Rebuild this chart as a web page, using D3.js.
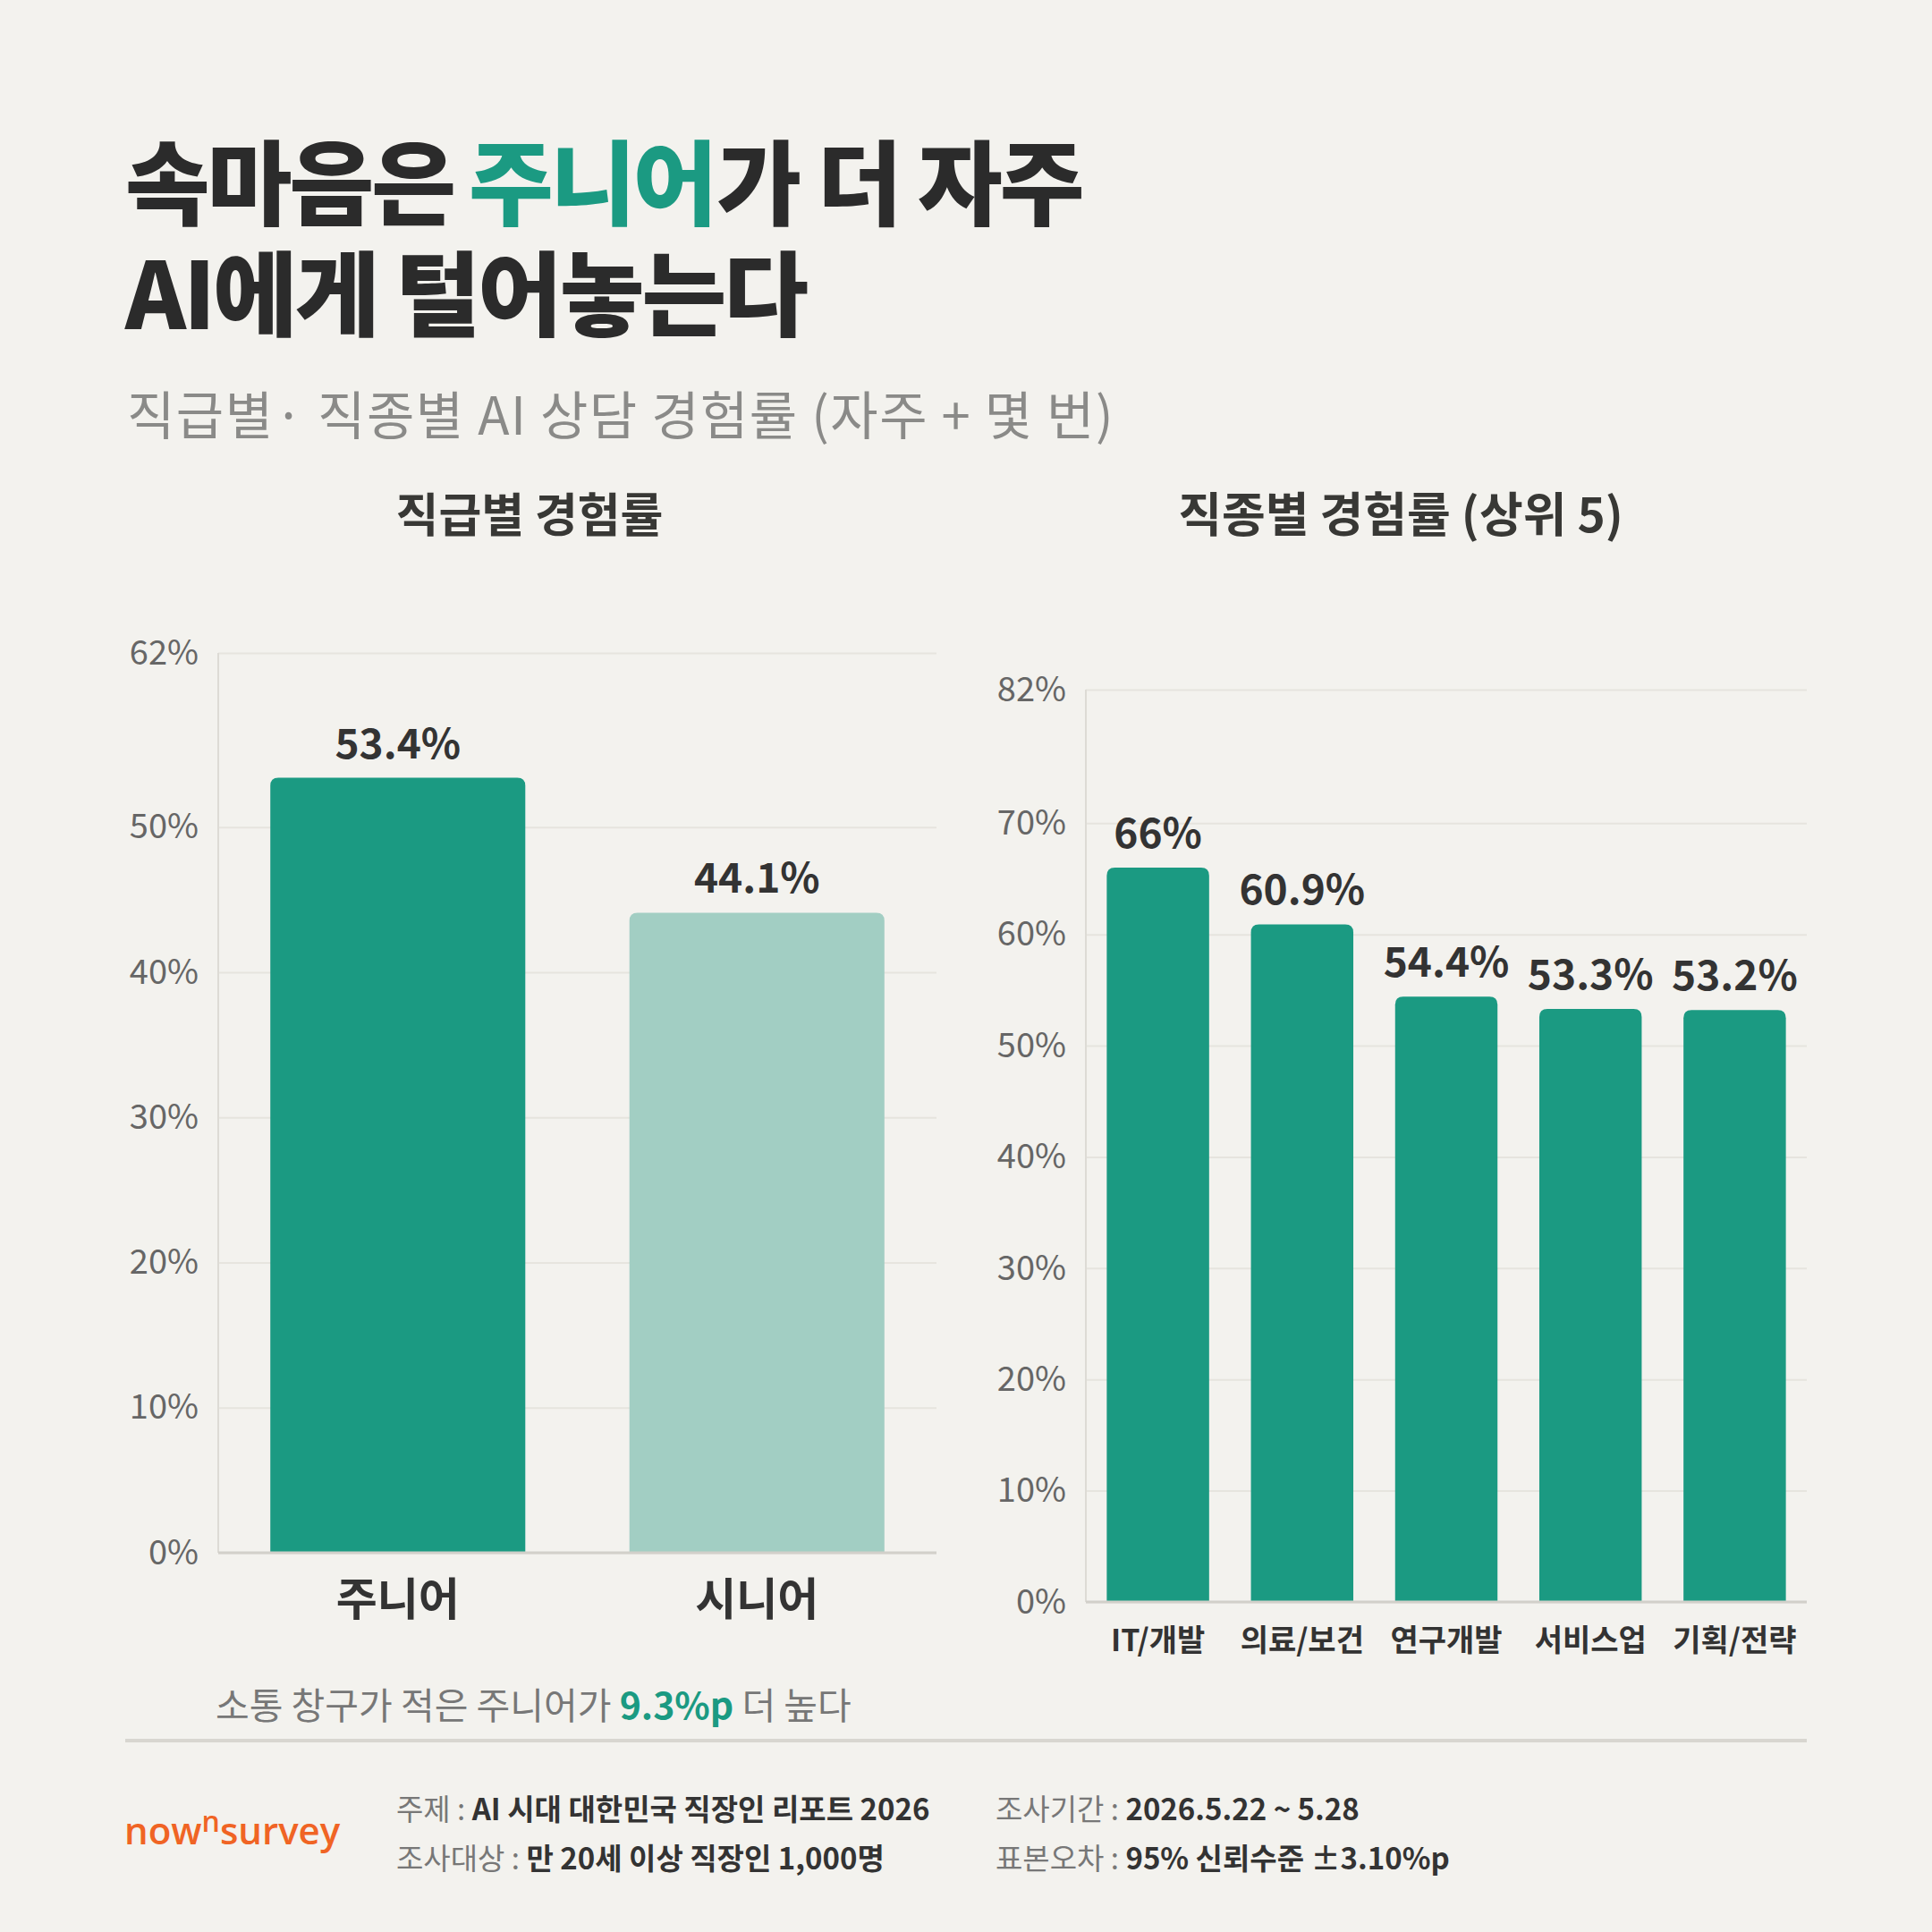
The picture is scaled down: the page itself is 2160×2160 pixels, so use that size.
<!DOCTYPE html>
<html>
<head>
<meta charset="utf-8">
<script src="https://cdn.jsdelivr.net/npm/d3@7"></script>
<style>
  html, body { margin: 0; padding: 0; background: #f3f2ee; }
  svg { display: block; font-family: "Noto Sans CJK KR", "Noto Sans", sans-serif; }
</style>
</head>
<body>
<div id="chart"></div>
<script>
'use strict'

// 직급별
const levelCats = ['주니어', '시니어']
const levelValues = [53.4, 44.1]
const levelTicks = [0, 10, 20, 30, 40, 50, 62]

// 직종별 (상위 5)
const jobCats = ['IT/개발', '의료/보건', '연구개발', '서비스업', '기획/전략']
const jobValues = [66, 60.9, 54.4, 53.3, 53.2]
const jobTicks = [0, 10, 20, 30, 40, 50, 60, 70, 82]

const W = 2160
const H = 2160
const green = '#1b9a82'
const lightGreen = '#a2cec3'
const dark = '#2b2b2b'

const svg = d3.select('#chart')
  .append('svg')
  .attr('width', W)
  .attr('height', H)

svg.append('rect').attr('width', W).attr('height', H).attr('fill', '#f3f2ee')

// title, line 1 is built from pieces placed one after another
const titleParts = [['속마음은', dark, 17], ['주니어', green, 2], ['가 더 자주', dark, 0]]
let tx = 140
titleParts.forEach(p => {
  const t = svg.append('text')
    .attr('x', tx)
    .attr('y', 244)
    .attr('font-size', 103)
    .attr('font-weight', 900)
    .attr('letter-spacing', -3)
    .attr('fill', p[1])
    .text(p[0])
  tx += t.node().getComputedTextLength() + p[2]
})
svg.append('text')
  .attr('x', 140)
  .attr('y', 368)
  .attr('font-size', 103)
  .attr('font-weight', 900)
  .attr('letter-spacing', -3)
  .attr('fill', dark)
  .text('AI에게 털어놓는다')

svg.append('text')
  .attr('x', 142)
  .attr('y', 486)
  .attr('font-size', 58)
  .attr('letter-spacing', 1.5)
  .attr('fill', '#8a8a88')
  .text('직급별· 직종별 AI 상담 경험률 (자주 + 몇 번)')

// rounded-top bar path
function barPath (x, y, w, h, r) {
  r = Math.min(r, h)
  return `M${x},${y + h}V${y + r}Q${x},${y} ${x + r},${y}H${x + w - r}Q${x + w},${y} ${x + w},${y + r}V${y + h}Z`
}

function drawChart (opt) {
  const g = svg.append('g')
  const x = d3.scaleBand()
    .domain(opt.cats)
    .range([opt.left, opt.right])
    .paddingInner(0.29)
    .paddingOuter(0.145)
  const y = d3.scaleLinear()
    .domain([0, opt.max])
    .range([opt.bottom, opt.top])

  // gridlines + tick labels
  const axis = g.append('g')
    .attr('transform', `translate(${opt.left},0)`)
    .call(d3.axisLeft(y)
      .tickValues(opt.ticks)
      .tickSize(-(opt.right - opt.left))
      .tickPadding(22)
      .tickFormat(d => d + '%'))
  axis.select('.domain').remove()
  axis.selectAll('.tick line').attr('stroke', '#e6e4de').attr('stroke-width', 2)
  axis.selectAll('.tick text')
    .attr('font-size', 38)
    .attr('fill', '#666')
    .attr('font-family', '"Noto Sans CJK KR", sans-serif')

  // y axis line and baseline
  g.append('line')
    .attr('x1', opt.left).attr('x2', opt.left)
    .attr('y1', y(opt.max)).attr('y2', y(0))
    .attr('stroke', '#dddbd5').attr('stroke-width', 2)

  g.selectAll('path.bar')
    .data(opt.values)
    .enter()
    .append('path')
    .attr('class', 'bar')
    .attr('d', (d, i) => barPath(x(opt.cats[i]), y(d), x.bandwidth(), y(0) - y(d), 9))
    .attr('fill', (d, i) => opt.colors[i])

  g.append('line')
    .attr('x1', opt.left).attr('x2', opt.right)
    .attr('y1', y(0)).attr('y2', y(0))
    .attr('stroke', '#d2d0ca').attr('stroke-width', 3)

  g.selectAll('text.val')
    .data(opt.values)
    .enter()
    .append('text')
    .attr('class', 'val')
    .attr('x', (d, i) => x(opt.cats[i]) + x.bandwidth() / 2)
    .attr('y', d => y(d) - 22)
    .attr('text-anchor', 'middle')
    .attr('font-size', 46)
    .attr('font-weight', 700)
    .attr('fill', '#333')
    .text(d => d + '%')

  g.selectAll('text.cat')
    .data(opt.cats)
    .enter()
    .append('text')
    .attr('class', 'cat')
    .attr('x', d => x(d) + x.bandwidth() / 2)
    .attr('y', opt.catY)
    .attr('text-anchor', 'middle')
    .attr('font-size', opt.catSize)
    .attr('font-weight', 700)
    .attr('fill', '#333')
    .text(d => d)

  g.append('text')
    .attr('x', opt.titleX)
    .attr('y', 595)
    .attr('text-anchor', 'middle')
    .attr('font-size', opt.titleSize)
    .attr('font-weight', 700)
    .attr('fill', '#383835')
    .text(opt.title)
}

drawChart({
  cats: levelCats,
  values: levelValues,
  ticks: levelTicks,
  max: 62,
  colors: [green, lightGreen],
  left: 244,
  right: 1047,
  top: 730,
  bottom: 1736,
  catY: 1806,
  catSize: 50,
  title: '직급별 경험률',
  titleX: 592,
  titleSize: 52
})

drawChart({
  cats: jobCats,
  values: jobValues,
  ticks: jobTicks,
  max: 82,
  colors: jobCats.map(() => green),
  left: 1214,
  right: 2020,
  top: 771,
  bottom: 1791,
  catY: 1846,
  catSize: 34,
  title: '직종별 경험률 (상위 5)',
  titleX: 1566,
  titleSize: 53
})

// note under left chart
const note = svg.append('text')
  .attr('x', 241)
  .attr('y', 1922)
  .attr('font-size', 41)
  .attr('fill', '#777')
note.append('tspan').text('소통 창구가 적은 주니어가 ')
note.append('tspan').attr('fill', green).attr('font-weight', 700).text('9.3%p')
note.append('tspan').text(' 더 높다')

svg.append('line')
  .attr('x1', 140).attr('x2', 2020)
  .attr('y1', 1946).attr('y2', 1946)
  .attr('stroke', '#d8d6d0').attr('stroke-width', 4)

// footer
const logo = svg.append('text')
  .attr('x', 139)
  .attr('y', 2062)
  .attr('font-family', '"Open Sans", sans-serif')
  .attr('font-size', 42)
  .attr('font-weight', 600)
  .attr('fill', '#f06424')
logo.append('tspan').text('now')
logo.append('tspan').attr('font-size', 32).attr('dy', -14).text('n')
logo.append('tspan').attr('dy', 14).text('survey')

const footLabels = ['주제', '조사대상', '조사기간', '표본오차']
const footValues = ['AI 시대 대한민국 직장인 리포트 2026', '만 20세 이상 직장인 1,000명', '2026.5.22 ~ 5.28', '95% 신뢰수준 ±3.10%p']
const footX = [443, 443, 1113, 1113]
const footY = [2035, 2090, 2035, 2090]

footLabels.forEach((lab, i) => {
  const t = svg.append('text')
    .attr('x', footX[i])
    .attr('y', footY[i])
    .attr('font-size', 33)
  t.append('tspan').attr('fill', '#777').text(lab + ' : ')
  t.append('tspan').attr('fill', '#333').attr('font-weight', 700).text(footValues[i])
})
</script>
</body>
</html>
